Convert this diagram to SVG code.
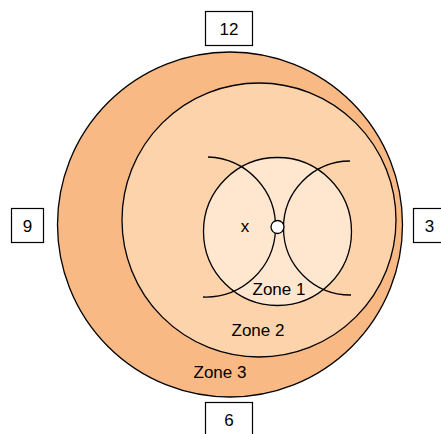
<svg xmlns="http://www.w3.org/2000/svg" width="441" height="434" viewBox="0 0 441 434">
<style>
text{font-family:"Liberation Sans",Arial,sans-serif;font-size:17px;fill:#000;text-anchor:middle}
.z{stroke:#000;stroke-width:1.3}
.box{fill:#fff;stroke:#000;stroke-width:1.2}
.arc{fill:none;stroke:#000;stroke-width:1.3}
</style>
<rect width="441" height="434" fill="#fff"/>
<g id="zone3"><circle class="z" cx="230" cy="224.5" r="172.5" fill="#F9B985"/><text x="220" y="378">Zone 3</text></g>
<g id="zone2"><circle class="z" cx="259" cy="220" r="137" fill="#FDD3AB"/><text x="258" y="336">Zone 2</text></g>
<g id="zone1"><circle class="z" cx="277.5" cy="231.5" r="74" fill="#FFE6CF"/><text x="279" y="295">Zone 1</text></g>
<g id="arcs">
<path class="arc" d="M208,157 A70,70 0 0 1 203,297"/>
<path class="arc" d="M350,161 A66,66 0 1 0 351,295"/>
</g>
<g id="x"><text x="245" y="232">x</text></g>
<g id="hub"><circle cx="277.5" cy="227" r="6.5" fill="#fff" stroke="#000" stroke-width="1.3"/></g>
<g id="n12"><rect class="box" x="205.5" y="11.5" width="47" height="34"/><text x="229" y="35">12</text></g>
<g id="n6"><rect class="box" x="205.5" y="402.5" width="47" height="34"/><text x="229" y="426">6</text></g>
<g id="n9"><rect class="box" x="11.5" y="208.5" width="32" height="34"/><text x="27.5" y="232">9</text></g>
<g id="n3"><rect class="box" x="413.5" y="208.5" width="32" height="34"/><text x="429.5" y="232">3</text></g>
</svg>
